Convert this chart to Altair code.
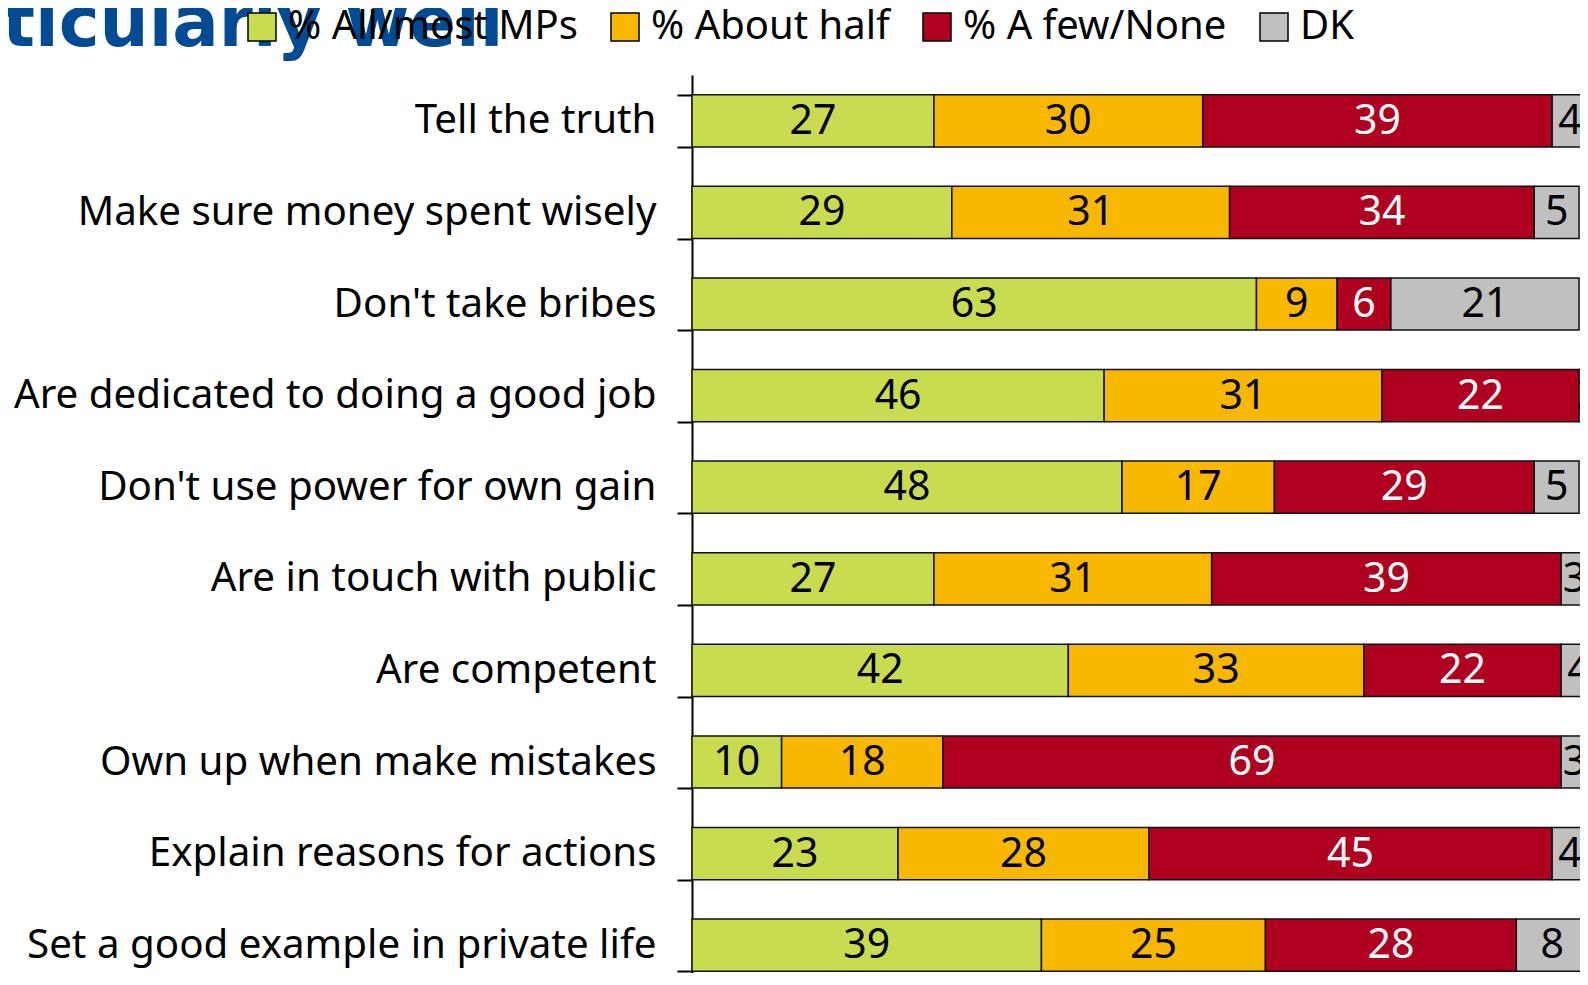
import altair as alt
import pandas as pd

categories = [
    "Tell the truth",
    "Make sure money spent wisely",
    "Don't take bribes",
    "Are dedicated to doing a good job",
    "Don't use power for own gain",
    "Are in touch with public",
    "Are competent",
    "Own up when make mistakes",
    "Explain reasons for actions",
    "Set a good example in private life",
]
series = ["% All/most MPs", "% About half", "% A few/None", "DK"]
all_most = [27, 29, 63, 46, 48, 27, 42, 10, 23, 39]
about_half = [30, 31, 9, 31, 17, 31, 33, 18, 28, 25]
few_none = [39, 34, 6, 22, 29, 39, 22, 69, 45, 28]
dk = [4, 5, 21, 2, 5, 3, 4, 3, 4, 8]
colors = ["#C9DC50", "#F8B800", "#B00020", "#C0C0C0"]
label_colors = ["black", "black", "white", "black"]
title_text = ["ticularly well"]

rows = []
for i, cat in enumerate(categories):
    start = 0
    for s, vals, lc in zip(series, [all_most, about_half, few_none, dk], label_colors):
        v = vals[i]
        rows.append({"cat": cat, "series": s, "value": v, "start": start,
                     "end": start + v, "mid": start + v / 2, "lc": lc,
                     "order": series.index(s)})
        start += v
df = pd.DataFrame(rows)

FONT = "Noto Sans"
PLOT_W = 896   # scale length (0..100 %)
PLOT_H = 916   # scale length (10 bands)

base = alt.Chart(df)
y_enc = alt.Y("cat:N", sort=categories, title=None,
              scale=alt.Scale(paddingInner=0.43, paddingOuter=0.215, range=[0, PLOT_H]),
              axis=alt.Axis(domainColor="black", domainWidth=2, tickColor="black",
                            tickWidth=2, tickSize=15, tickBand="extent",
                            labelFont=FONT, labelFontSize=40.3, labelColor="black",
                            labelPadding=21, labelLimit=800, grid=False))
x_scale = alt.Scale(domain=[0, 100], nice=False, zero=True, range=[0, PLOT_W])

bars = base.mark_bar(stroke="#111111", strokeWidth=1.5).encode(
    y=y_enc,
    x=alt.X("start:Q", scale=x_scale, axis=None),
    x2="end:Q",
    color=alt.Color("series:N", scale=alt.Scale(domain=series, range=colors),
                    sort=series,
                    legend=alt.Legend(title=None, orient="none", direction="horizontal",
                                      columns=4, legendX=-450, legendY=-68,
                                      symbolType="square", symbolSize=784,
                                      symbolStrokeColor="black", symbolStrokeWidth=1.5,
                                      labelFont=FONT, labelFontSize=40, labelColor="black",
                                      labelOffset=6, columnPadding=27, padding=0,
                                      labelLimit=600)),
    order="order:Q",
)

labels = base.mark_text(font=FONT, fontSize=41, baseline="middle", align="center", dy=1).encode(
    y=alt.Y("cat:N", sort=categories),
    x=alt.X("mid:Q", scale=x_scale),
    text="value:Q",
    color=alt.Color("lc:N", scale=None),
)

title = alt.Chart(pd.DataFrame({"t": title_text})).mark_text(
    font="DejaVu Sans", fontWeight="bold", fontSize=69, color="#004B93",
    align="left", baseline="alphabetic",
).encode(text="t:N", x=alt.value(-690), y=alt.value(-29))

chart = (title + bars + labels).properties(
    width=888, height=898,
    padding={"left": 684, "top": 67, "right": 0, "bottom": 0},
    autosize="none",
).configure_view(stroke=None)

chart.save("out.html", embed_options={"renderer": "svg", "actions": False})
